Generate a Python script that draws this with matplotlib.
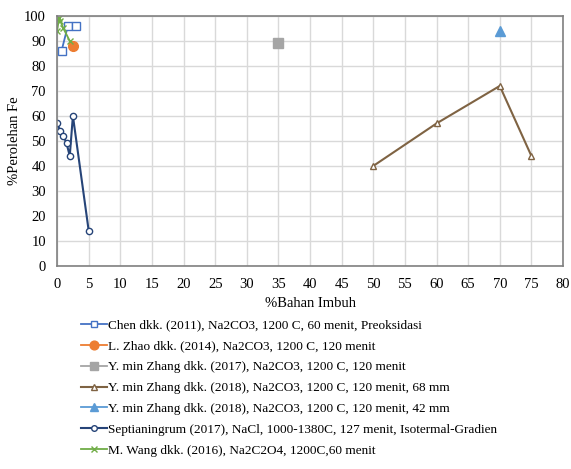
import matplotlib
matplotlib.use("Agg")
import matplotlib.pyplot as plt

plt.rcParams['font.family'] = 'Liberation Serif'

chen_x = [0.7, 1.7, 3]
chen_y = [86, 96, 96]
zhao_x = [2.5]
zhao_y = [88]
zhang17_x = [35]
zhang17_y = [89]
zhang18a_x = [50, 60, 70, 75]
zhang18a_y = [40, 57, 72, 44]
zhang18b_x = [70]
zhang18b_y = [94]
sept_x = [0, 0.5, 1, 1.5, 2, 2.5, 5]
sept_y = [57, 54, 52, 49, 44, 60, 14]
wang_x = [0, 0.3, 0.5, 1, 2]
wang_y = [94, 99, 98, 95, 90]

labels = [
    "Chen dkk. (2011), Na2CO3, 1200 C, 60 menit, Preoksidasi",
    "L. Zhao dkk. (2014), Na2CO3, 1200 C, 120 menit",
    "Y. min Zhang dkk. (2017), Na2CO3, 1200 C, 120 menit",
    "Y. min Zhang dkk. (2018), Na2CO3, 1200 C, 120 menit, 68 mm",
    "Y. min Zhang dkk. (2018), Na2CO3, 1200 C, 120 menit, 42 mm",
    "Septianingrum (2017), NaCl, 1000-1380C, 127 menit, Isotermal-Gradien",
    "M. Wang dkk. (2016), Na2C2O4, 1200C,60 menit",
]

fig = plt.figure(figsize=(5.71, 4.69), dpi=100)
ax = fig.add_axes([0.1, 0.433, 0.886, 0.533])

ax.plot(chen_x, chen_y, color='#4472c4', lw=1.3, marker='s', ms=5.5, mfc='white', mec='#4472c4', label=labels[0])
ax.plot(zhao_x, zhao_y, color='#ed7d31', lw=1.3, marker='o', ms=7, label=labels[1])
ax.plot(zhang17_x, zhang17_y, color='#a5a5a5', lw=1.3, marker='s', ms=6.5, label=labels[2])
ax.plot(zhang18a_x, zhang18a_y, color='#7f6343', lw=1.5, marker='^', ms=5, mfc='white', mec='#7f6343', label=labels[3])
ax.plot(zhang18b_x, zhang18b_y, color='#5b9bd5', lw=1.3, marker='^', ms=6.5, label=labels[4])
ax.plot(sept_x, sept_y, color='#264478', lw=1.5, marker='o', ms=4.5, mfc='white', mec='#264478', label=labels[5])
ax.plot(wang_x, wang_y, color='#70ad47', lw=1.3, marker='x', ms=5, label=labels[6])

ax.set_xlim(0, 80)
ax.set_ylim(0, 100)
ax.set_xticks(range(0, 81, 5))
ax.set_yticks(range(0, 101, 10))
ax.grid(True, color='#d9d9d9', lw=1)
ax.set_axisbelow(True)
for s in ax.spines.values():
    s.set_color('#808080')
    s.set_linewidth(1.2)
ax.tick_params(axis='x', length=0, labelsize=10.5, pad=9)
ax.tick_params(axis='y', length=0, labelsize=10.5, pad=8)
ax.set_xlabel("%Bahan Imbuh", fontsize=10.5, labelpad=4)
ax.set_ylabel("%Perolehan Fe", fontsize=10.5, labelpad=2)
ax.yaxis.set_label_coords(-0.072, 0.5)

fig.legend(loc='upper left', bbox_to_anchor=(0.132, 0.33), frameon=False,
           fontsize=9.5, handlelength=2.0, handletextpad=0.1, labelspacing=0.65,
           borderaxespad=0, markerscale=0.9)

fig.savefig("out.png", dpi=100)
